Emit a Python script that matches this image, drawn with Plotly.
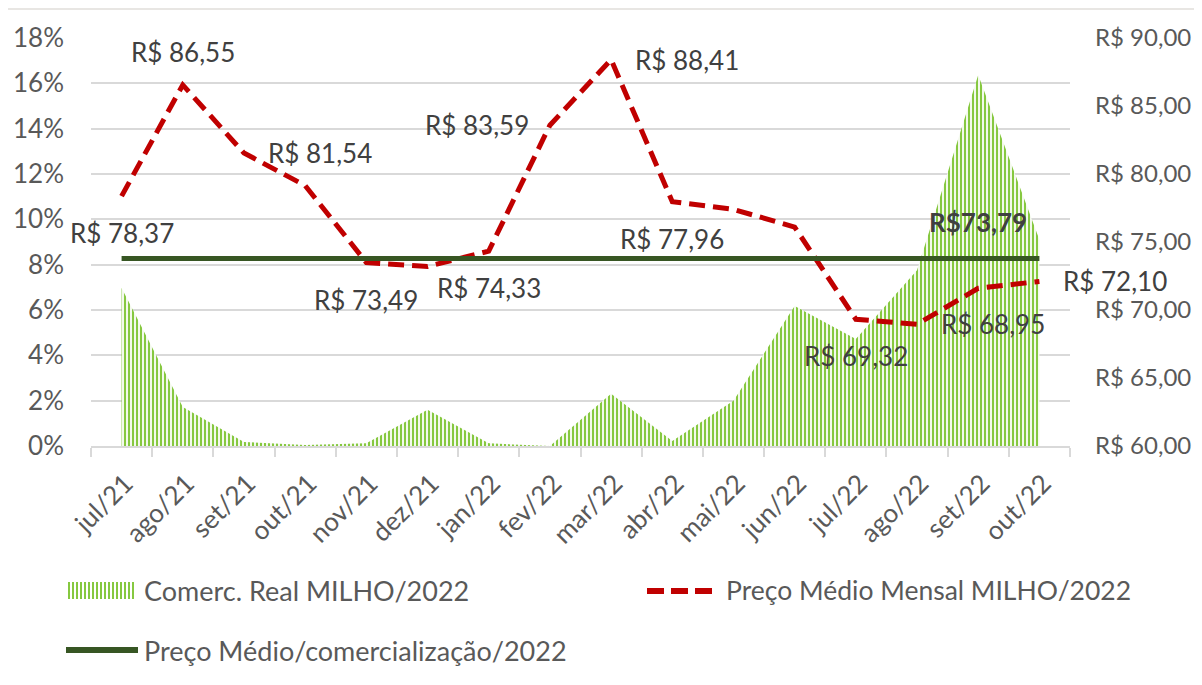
import plotly.graph_objects as go

# Comercialização real (fração) e preço médio mensal do milho
months = ["jul/21", "ago/21", "set/21", "out/21", "nov/21", "dez/21", "jan/22", "fev/22",
          "mar/22", "abr/22", "mai/22", "jun/22", "jul/22", "ago/22", "set/22", "out/22"]
comerc_real = [0.0697, 0.0172, 0.0018, 0.0004, 0.0012, 0.0160, 0.0012, 0.0000,
               0.0230, 0.0022, 0.0200, 0.0618, 0.0472, 0.0775, 0.1637, 0.0910]
preco_mensal = [78.37, 86.55, 81.54, 79.15, 73.49, 73.20, 74.33, 83.59,
                88.41, 77.96, 77.40, 76.10, 69.32, 68.95, 71.60, 72.10]
preco_medio = 73.79

# which points get a data label, and where
label_pos = {0: "below", 1: "above", 2: "right", 4: "below", 6: "below", 7: "left",
             8: "right", 9: "below", 12: "below", 13: "right", 15: "right"}

FONT = "Lato"
GREY = "#595959"
DARK = "#404040"
STRIPE = "#86C840"

# the page body adds an 8px offset, so work in page pixels minus 8
OFF = 8
W, H = 1202 - OFF, 685 - OFF
# plot area in page pixels: x 91..1070, y 38..446
L, R, T, B = 91, 1070, 38, 446


def px_x(v):
    return (v - L) / (R - L)


def px_y(v):
    return (B - v) / (B - T)


def brl(v, space=True):
    return ("R$ " if space else "R$") + f"{v:.2f}".replace(".", ",")


fig = go.Figure()

fig.add_trace(go.Scatter(
    x=months, y=comerc_real, name="Comerc. Real MILHO/2022",
    mode="none", fill="tozeroy", fillcolor="white",
    fillpattern=dict(shape="|", fgcolor=STRIPE, fgopacity=1, bgcolor="white",
                     size=4, solidity=0.55),
))
fig.add_trace(go.Scatter(
    x=months, y=preco_mensal, name="Preço Médio Mensal MILHO/2022", yaxis="y2",
    mode="lines", line=dict(color="#C00000", width=5, dash="16px,8px"),
))
fig.add_trace(go.Scatter(
    x=months, y=[preco_medio] * len(months), name="Preço Médio/comercialização/2022",
    yaxis="y2", mode="lines", line=dict(color="#375623", width=5),
))

annotations = []
offsets = {"below": (0, -37, "center"), "above": (0, 33, "center"),
           "right": (22, 0, "left"), "left": (-19, 0, "right")}
for i, pos in label_pos.items():
    dx, dy, anchor = offsets[pos]
    annotations.append(dict(
        x=months[i], y=preco_mensal[i], xref="x", yref="y2", text=brl(preco_mensal[i]),
        showarrow=False, xanchor=anchor, yanchor="middle", xshift=dx, yshift=dy,
        font=dict(family=FONT, size=26, color=DARK),
    ))
annotations.append(dict(
    x=months[14], y=preco_medio, xref="x", yref="y2", text="<b>" + brl(preco_medio, False) + "</b>",
    showarrow=False, xanchor="center", yanchor="middle", yshift=36,
    font=dict(family=FONT, size=26, color=DARK),
))

# custom legend (long swatches like the original)
legend_items = [
    ("Comerc. Real MILHO/2022", 142, 590, 27),
    ("Preço Médio Mensal MILHO/2022", 724, 590, 26.5),
    ("Preço Médio/comercialização/2022", 142, 650, 27),
]
for text, lx, ly, fs in legend_items:
    annotations.append(dict(
        x=px_x(lx), y=px_y(ly), xref="paper", yref="paper", text=text, showarrow=False,
        xanchor="left", yanchor="middle", font=dict(family=FONT, size=fs, color=GREY),
    ))

shapes = [
    # white panel over the grey backdrop
    dict(type="rect", xref="paper", yref="paper", x0=px_x(8), x1=px_x(1210), y0=px_y(700), y1=px_y(10),
         fillcolor="white", line=dict(width=0), layer="below"),
]
# striped swatch
stripes = " ".join(f"M{px_x(x0)},{px_y(582)} L{px_x(x0)},{px_y(599)}" for x0 in range(69, 137, 4))
shapes.append(dict(type="path", xref="paper", yref="paper", path=stripes,
                   line=dict(color=STRIPE, width=2)))
shapes.append(dict(type="line", xref="paper", yref="paper", x0=px_x(647), x1=px_x(712),
                   y0=px_y(591), y1=px_y(591), line=dict(color="#C00000", width=6, dash="17px,7px")))
shapes.append(dict(type="line", xref="paper", yref="paper", x0=px_x(66), x1=px_x(138),
                   y0=px_y(650), y1=px_y(650), line=dict(color="#375623", width=6)))

fig.update_layout(
    width=W, height=H,
    margin=dict(l=L - OFF, r=W - (R - OFF), t=T - OFF, b=H - (B - OFF), autoexpand=False),
    paper_bgcolor="#e8e6e3", plot_bgcolor="rgba(0,0,0,0)",
    separators=",.",
    showlegend=False,
    font=dict(family=FONT, size=26, color=GREY),
    xaxis=dict(
        type="category", range=[-0.5, 15.5], tickangle=-45, showgrid=False,
        showline=True, linecolor="#D9D9D9", linewidth=2,
        ticks="outside", tickson="boundaries", ticklen=9, tickcolor="#D9D9D9", tickwidth=2,
        ticklabelstandoff=10, ticklabelshift=4,
        tickfont=dict(family=FONT, size=26, color=GREY),
    ),
    yaxis=dict(
        range=[0, 0.18], dtick=0.02, tickformat=".0%", showgrid=True, gridcolor="#D9D9D9",
        gridwidth=2, zeroline=False, showline=False, ticklabelstandoff=26,
        tickfont=dict(family=FONT, size=26, color=GREY),
    ),
    yaxis2=dict(
        overlaying="y", side="right", range=[60, 90], dtick=5, tickformat=".2f",
        tickprefix="R$ ", showgrid=False, zeroline=False, showline=False, ticklabelstandoff=24,
        tickfont=dict(family=FONT, size=24, color=GREY),
    ),
    annotations=annotations,
    shapes=shapes,
)

fig.write_html("out.html")
